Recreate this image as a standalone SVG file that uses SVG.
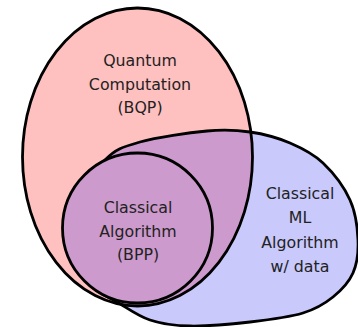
<svg xmlns="http://www.w3.org/2000/svg" width="358" height="327" viewBox="0 0 358 327">
<style>
.t{font-family:"DejaVu Sans",sans-serif;font-size:15.8px;fill:#222;text-anchor:middle}
.s{fill:none;stroke:#000;stroke-width:2.8}
</style>
<defs>
<ellipse id="redShape" cx="137.5" cy="157" rx="115" ry="149"/>
<path id="blueShape" d="M207,131 C225.3,129.3 236.2,130 250,132 C263.8,134 277.8,137.8 290,143 C302.2,148.2 313,153.5 323,163 C333,172.5 344.2,187.2 350,200 C355.8,212.8 357.5,227.8 358,240 C358.5,252.2 357.2,263.5 353,273 C348.8,282.5 341.3,290.3 333,297 C324.7,303.7 316.8,308.8 303,313 C289.2,317.2 268.8,319.8 250,322 C231.2,324.2 206.7,326.3 190,326 C173.3,325.7 162.2,324 150,320 C137.8,316 127,307.8 117,302 C107,296.2 97.5,292.8 90,285 C82.5,277.2 74.5,267.5 72,255 C69.5,242.5 69.5,225.8 75,210 C80.5,194.2 94.2,171.3 105,160 C115.8,148.7 123,146.8 140,142 C157,137.2 188.7,132.7 207,131 Z"/>
<clipPath id="redClip"><use href="#redShape"/></clipPath>
</defs>
<rect width="358" height="327" fill="#fff"/>
<g id="bqp">
<use href="#redShape" fill="#ffc0c0"/>
</g>
<g id="ml">
<use href="#blueShape" fill="#c9c9fc"/>
<use href="#blueShape" fill="#cc9acc" clip-path="url(#redClip)"/>
</g>
<g id="outlines">
<use href="#redShape" class="s"/>
<use href="#blueShape" class="s"/>
</g>
<g id="bpp">
<circle cx="137.5" cy="228" r="75" fill="#cc9acc"/>
<circle class="s" cx="137.5" cy="228" r="75"/>
</g>
<g id="labels">
<text class="t" x="140" y="66">Quantum</text>
<text class="t" x="140" y="90">Computation</text>
<text class="t" x="140" y="113">(BQP)</text>
<text class="t" x="138" y="213">Classical</text>
<text class="t" x="138" y="237">Algorithm</text>
<text class="t" x="138" y="260">(BPP)</text>
<text class="t" x="300" y="199">Classical</text>
<text class="t" x="300" y="223">ML</text>
<text class="t" x="300" y="248">Algorithm</text>
<text class="t" x="300" y="272">w/ data</text>
</g>
</svg>
